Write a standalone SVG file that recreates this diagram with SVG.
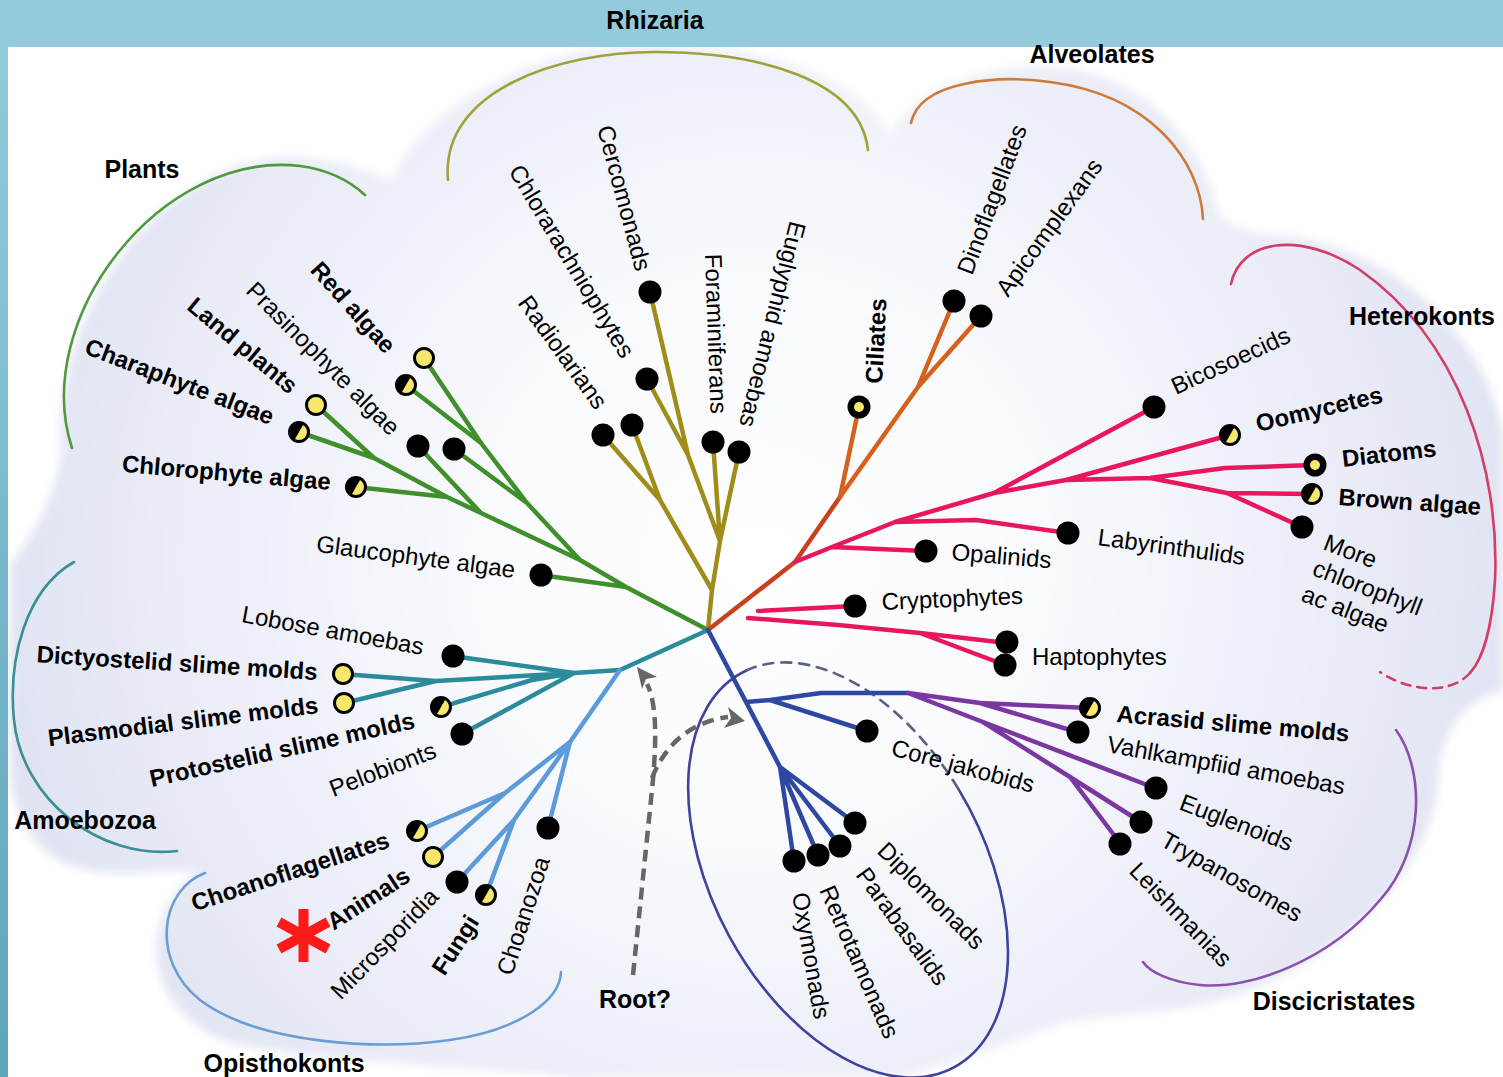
<svg xmlns="http://www.w3.org/2000/svg" width="1503" height="1077" viewBox="0 0 1503 1077">
<defs>
<style>
.t{font-family:"Liberation Sans",Arial,sans-serif;font-size:24px;fill:#000}
.b{font-weight:bold}
.e{text-anchor:end}
.ttl{font-family:"Liberation Sans",Arial,sans-serif;font-size:25px;font-weight:bold;text-anchor:middle;fill:#000}
.br{fill:none;stroke-width:4.5;stroke-linecap:round;stroke-linejoin:round}
.arc{fill:none;stroke-width:2.6;stroke-linecap:round}
.g{stroke:#3f8f2a}.o{stroke:#a08d19}.r{stroke:#c9401c}.or{stroke:#d4621c}.p{stroke:#e8175d}
.tl{stroke:#2b8b9b}.lb{stroke:#5b9bd9}.bl{stroke:#2e47a1}.pu{stroke:#7b37a1}
.dash{fill:none;stroke:#666;stroke-width:4.5;stroke-dasharray:12 7}
</style>
<radialGradient id="cg" gradientUnits="userSpaceOnUse" cx="760" cy="560" r="760">
<stop offset="0" stop-color="#ffffff"/>
<stop offset="0.4" stop-color="#f8f9fd"/>
<stop offset="0.72" stop-color="#eceef8"/>
<stop offset="1" stop-color="#e0e3f2"/>
</radialGradient>
<linearGradient id="lg" x1="0" y1="0" x2="0" y2="1">
<stop offset="0" stop-color="#93cadb"/>
<stop offset="1" stop-color="#5ea6bc"/>
</linearGradient>
<filter id="soft" x="-5%" y="-5%" width="110%" height="110%"><feGaussianBlur stdDeviation="5"/></filter>
<g id="dB"><circle r="11.5" fill="#000"/></g>
<g id="dY"><circle r="9.5" fill="#f7e86c" stroke="#000" stroke-width="3"/></g>
<g id="dH"><circle r="9.5" fill="#f7e86c" stroke="#000" stroke-width="3"/><path d="M-5,8.66 A10 10 0 0 1 5,-8.66 Z" fill="#000"/></g>
<g id="dC"><circle r="11.5" fill="#000"/><circle r="5" fill="#f7e86c"/></g>
</defs>

<rect width="1503" height="1077" fill="#fff"/>
<path filter="url(#soft)" fill="url(#cg)" d="M10,565 C30,540 55,500 62,450 C50,320 160,150 300,158 C340,160 370,172 392,180 C420,110 530,45 655,44 C760,44 870,80 890,138 C905,92 985,62 1060,68 C1140,75 1205,140 1218,215 C1245,238 1275,232 1310,240 C1420,265 1495,360 1503,440 L1503,690 C1465,700 1440,730 1438,780 C1432,870 1340,965 1220,1000 C1150,1018 1090,1012 1050,1028 C990,1050 930,1070 900,1077 L560,1077 C460,1065 330,1062 240,1045 C180,1030 150,980 158,935 C162,905 180,885 198,872 C160,868 110,880 70,865 C30,850 10,810 10,760 Z"/>
<rect x="0" y="0" width="1503" height="47" fill="#94cbdc"/>
<rect x="0" y="47" width="8" height="1030" fill="url(#lg)"/>

<g id="group-arcs">
<path class="arc" stroke="#4e9a3c" d="M72,448 C30,320 160,150 300,166 C330,170 352,183 365,195"/>
<path class="arc" stroke="#a3a03c" d="M448,180 C440,90 560,52 655,52 C760,52 860,80 868,150"/>
<path class="arc" stroke="#cd7a3a" d="M911,123 C920,80 1000,75 1050,82 C1150,95 1200,160 1203,219"/>
<path class="arc" stroke="#d33d66" d="M1231,284 C1240,240 1300,230 1360,270 C1460,340 1500,470 1495,580 C1492,630 1482,660 1470,673"/>
<path class="arc" stroke="#d33d66" stroke-dasharray="9 7" d="M1470,673 C1450,695 1410,692 1380,672"/>
<path class="arc" stroke="#3b8f95" d="M74,562 C25,590 8,660 14,720 C22,800 100,860 177,851"/>
<path class="arc" stroke="#6b9dd3" d="M205,873 C160,890 150,960 200,1000 C260,1045 380,1050 450,1040 C520,1030 560,1000 561,972"/>
<path class="arc" stroke="#3e439b" d="M958.2,788.7 A224 136 61.8 1 1 746.4,670.5"/>
<path class="arc" stroke="#5b5f86" stroke-dasharray="10 8" d="M746.4,670.5 A224 136 61.8 0 1 958.2,788.7"/>
<path class="arc" stroke="#8b4fad" d="M1396,730 C1425,770 1425,850 1380,900 C1330,960 1250,990 1200,985 C1170,982 1150,972 1143,962"/>
</g>

<g id="connectors">
<path class="br g" d="M708,630 L626,587 L580,560 L527,503 L481,443 L424,358 M481,443 L406,385 M527,503 L454,449 M580,560 L481,513 L418,446 M481,513 L447,497 L356,487 M447,497 L374,458 L316,405 M374,458 L299,432 M626,587 L541,575"/>
<path class="br o" d="M708,630 L712,590 L720,541 L713,442 M720,541 L739,452 M720,541 L688,455 L650,292 M688,455 L647,379 M712,590 L660,500 L603,435 M660,500 L632,425"/>
<path class="br r" d="M708,630 L795,562 L840,497"/>
<path class="br or" d="M840,497 L918,387 L954,301 M918,387 L981,316 M840,497 L859,407"/>
<path class="br p" d="M795,562 L832,547 L895,522 L994,493 L1066,480 L1150,478 L1225,468 L1314,465 M832,547 L925,551 M895,522 L976,520 L1068,533 M994,493 L1154,407 M1066,480 L1230,435 M1150,478 L1227,493 L1312,494 M1227,493 L1302,527 M758,611 L855,606 M748,618 L838,625 L920,633 L1007,643 M920,633 L1005,665"/>
<path class="br tl" d="M708,630 L620,670 L574,673 L452,656 M574,673 L436,681 L342,674 M436,681 L344,703 M574,673 L532,680 L441,707 M574,673 L462,734"/>
<path class="br lb" d="M620,670 L570,742 L548,828 M570,742 L514,820 L486,895 M514,820 L457,882 M570,742 L505,793 L417,831 M505,793 L433,857"/>
<path class="br bl" d="M708,630 L746,702 L780,767 M746,702 L770,700 L821,693 L908,693 M770,700 L867,731 M780,767 L855,823 M780,767 L840,846 M780,767 L818,855 M780,767 L794,861"/>
<path class="br pu" d="M908,693 L980,703 L1089,708 M980,703 L1077,732 M908,693 L983,722 L1155,788 M983,722 L1070,777 L1141,822 M1070,777 L1120,843"/>
<path class="dash" d="M633,975 L652,790 C656,750 658,705 647,684"/>
<polygon points="637,667 657,677 646,679 642,689" fill="#666"/>
<path class="dash" d="M652,778 C665,745 690,722 728,717"/>
<polygon points="745,721 728,707 731,718 724,728" fill="#666"/>
</g>

<g id="titles">
<text class="ttl" x="655" y="29">Rhizaria</text>
<text class="ttl" x="1092" y="63">Alveolates</text>
<text class="ttl" x="142" y="178">Plants</text>
<text class="ttl" x="1422" y="325">Heterokonts</text>
<text class="ttl" x="85" y="829">Amoebozoa</text>
<text class="ttl" x="284" y="1072">Opisthokonts</text>
<text class="ttl" x="1334" y="1010">Discicristates</text>
<text class="ttl" x="635" y="1008">Root?</text>
</g>

<g id="red-algae"><use href="#dY" x="424" y="358"/><use href="#dH" x="406" y="385"/><text class="t b e" transform="translate(385,355) rotate(48)">Red algae</text></g>
<g id="prasinophyte-algae"><use href="#dB" x="418" y="446"/><use href="#dB" x="454" y="449"/><text class="t e" transform="translate(390,437) rotate(45)">Prasinophyte algae</text></g>
<g id="land-plants"><use href="#dY" x="316" y="405"/><text class="t b e" transform="translate(289,395) rotate(40)">Land plants</text></g>
<g id="charaphyte-algae"><use href="#dH" x="299" y="432"/><text class="t b e" transform="translate(270,425) rotate(21)">Charaphyte algae</text></g>
<g id="chlorophyte-algae"><use href="#dH" x="356" y="487"/><text class="t b e" transform="translate(330,490) rotate(5)">Chlorophyte algae</text></g>
<g id="glaucophyte-algae"><use href="#dB" x="541" y="575"/><text class="t e" transform="translate(514,578) rotate(7.5)">Glaucophyte algae</text></g>

<g id="cercomonads"><use href="#dB" x="650" y="292"/><text class="t" transform="translate(597,128) rotate(75)">Cercomonads</text></g>
<g id="chlorarachniophytes"><use href="#dB" x="647" y="379"/><text class="t" transform="translate(508,171) rotate(59)">Chlorarachniophytes</text></g>
<g id="radiolarians"><use href="#dB" x="603" y="435"/><use href="#dB" x="632" y="425"/><text class="t" transform="translate(517,303) rotate(54)">Radiolarians</text></g>
<g id="foraminiferans"><use href="#dB" x="713" y="442"/><text class="t" transform="translate(705,254) rotate(88)">Foraminiferans</text></g>
<g id="euglyphid-amoebas"><use href="#dB" x="739" y="452"/><text class="t" transform="translate(790,220) rotate(104)">Euglyphid amoebas</text></g>

<g id="ciliates"><use href="#dC" x="859" y="407"/><text class="t b" transform="translate(882,384) rotate(-87)">Ciliates</text></g>
<g id="dinoflagellates"><use href="#dB" x="954" y="301"/><text class="t" transform="translate(972,276) rotate(-69.5)">Dinoflagellates</text></g>
<g id="apicomplexans"><use href="#dB" x="981" y="316"/><text class="t" transform="translate(1008,298) rotate(-54)">Apicomplexans</text></g>

<g id="bicosoecids"><use href="#dB" x="1154" y="407"/><text class="t" transform="translate(1176,395) rotate(-24.8)">Bicosoecids</text></g>
<g id="oomycetes"><use href="#dH" x="1230" y="435"/><text class="t b" transform="translate(1258,432) rotate(-13.3)">Oomycetes</text></g>
<g id="diatoms"><use href="#dC" x="1315" y="465"/><text class="t b" transform="translate(1343,467) rotate(-6.5)">Diatoms</text></g>
<g id="brown-algae"><use href="#dH" x="1312" y="494"/><text class="t b" transform="translate(1338,505) rotate(4)">Brown algae</text></g>
<g id="more-chlorophyll"><use href="#dB" x="1302" y="527"/><text class="t" transform="translate(1322,549) rotate(21)"><tspan x="0" y="0">More</tspan><tspan x="-1" dy="28">chlorophyll</tspan><tspan x="-2" dy="28">ac algae</tspan></text></g>
<g id="labyrinthulids"><use href="#dB" x="1068" y="533"/><text class="t" transform="translate(1097,545) rotate(7.7)">Labyrinthulids</text></g>
<g id="opalinids"><use href="#dB" x="926" y="551"/><text class="t" transform="translate(951,560) rotate(4.7)">Opalinids</text></g>
<g id="cryptophytes"><use href="#dB" x="855" y="606"/><text class="t" transform="translate(882,610) rotate(-2.5)">Cryptophytes</text></g>
<g id="haptophytes"><use href="#dB" x="1007" y="642"/><use href="#dB" x="1005" y="665"/><text class="t" x="1032" y="665">Haptophytes</text></g>

<g id="lobose-amoebas"><use href="#dB" x="453" y="656"/><text class="t e" transform="translate(422,655) rotate(10.3)">Lobose amoebas</text></g>
<g id="dictyostelid"><use href="#dY" x="343" y="674"/><text class="t b e" transform="translate(317,680) rotate(3.6)">Dictyostelid slime molds</text></g>
<g id="plasmodial"><use href="#dY" x="344" y="703"/><text class="t b e" transform="translate(319,713) rotate(-7)">Plasmodial slime molds</text></g>
<g id="protostelid"><use href="#dH" x="441" y="707"/><text class="t b e" transform="translate(416,728) rotate(-12.6)">Protostelid slime molds</text></g>
<g id="pelobionts"><use href="#dB" x="462" y="734"/><text class="t e" transform="translate(438,757) rotate(-21)">Pelobionts</text></g>

<g id="choanoflagellates"><use href="#dH" x="417" y="831"/><text class="t b e" transform="translate(391,847) rotate(-18.2)">Choanoflagellates</text></g>
<g id="animals"><use href="#dY" x="433" y="857"/><text class="t b e" transform="translate(412,880) rotate(-33)">Animals</text>
<g stroke="#ff1a1a" stroke-width="10"><line x1="303.5" y1="909" x2="303.5" y2="962"/><line x1="279" y1="922" x2="328" y2="949"/><line x1="279" y1="949" x2="328" y2="922"/></g></g>
<g id="microsporidia"><use href="#dB" x="457" y="882"/><text class="t e" transform="translate(440,898) rotate(-46)">Microsporidia</text></g>
<g id="fungi"><use href="#dH" x="486" y="895"/><text class="t b e" transform="translate(480,922) rotate(-57)">Fungi</text></g>
<g id="choanozoa"><use href="#dB" x="548" y="828"/><text class="t e" transform="translate(550,860) rotate(-72)">Choanozoa</text></g>

<g id="core-jakobids"><use href="#dB" x="867" y="731"/><text class="t" transform="translate(890,755) rotate(15)">Core jakobids</text></g>
<g id="diplomonads"><use href="#dB" x="855" y="823"/><text class="t" transform="translate(876,852) rotate(45)">Diplomonads</text></g>
<g id="parabasalids"><use href="#dB" x="840" y="846"/><text class="t" transform="translate(855,875) rotate(54)">Parabasalids</text></g>
<g id="retrotamonads"><use href="#dB" x="818" y="855"/><text class="t" transform="translate(819,890) rotate(66.4)">Retrotamonads</text></g>
<g id="oxymonads"><use href="#dB" x="794" y="861"/><text class="t" transform="translate(792,894) rotate(80)">Oxymonads</text></g>

<g id="acrasid"><use href="#dH" x="1090" y="708"/><text class="t b" transform="translate(1116,722) rotate(4.8)">Acrasid slime molds</text></g>
<g id="vahlkampfiid"><use href="#dB" x="1078" y="732"/><text class="t" transform="translate(1106,752) rotate(10.2)">Vahlkampfiid amoebas</text></g>
<g id="euglenoids"><use href="#dB" x="1156" y="788"/><text class="t" transform="translate(1178,809) rotate(21)">Euglenoids</text></g>
<g id="trypanosomes"><use href="#dB" x="1141" y="822"/><text class="t" transform="translate(1159,845) rotate(29.5)">Trypanosomes</text></g>
<g id="leishmanias"><use href="#dB" x="1120" y="844"/><text class="t" transform="translate(1128,872) rotate(45.8)">Leishmanias</text></g>
</svg>
